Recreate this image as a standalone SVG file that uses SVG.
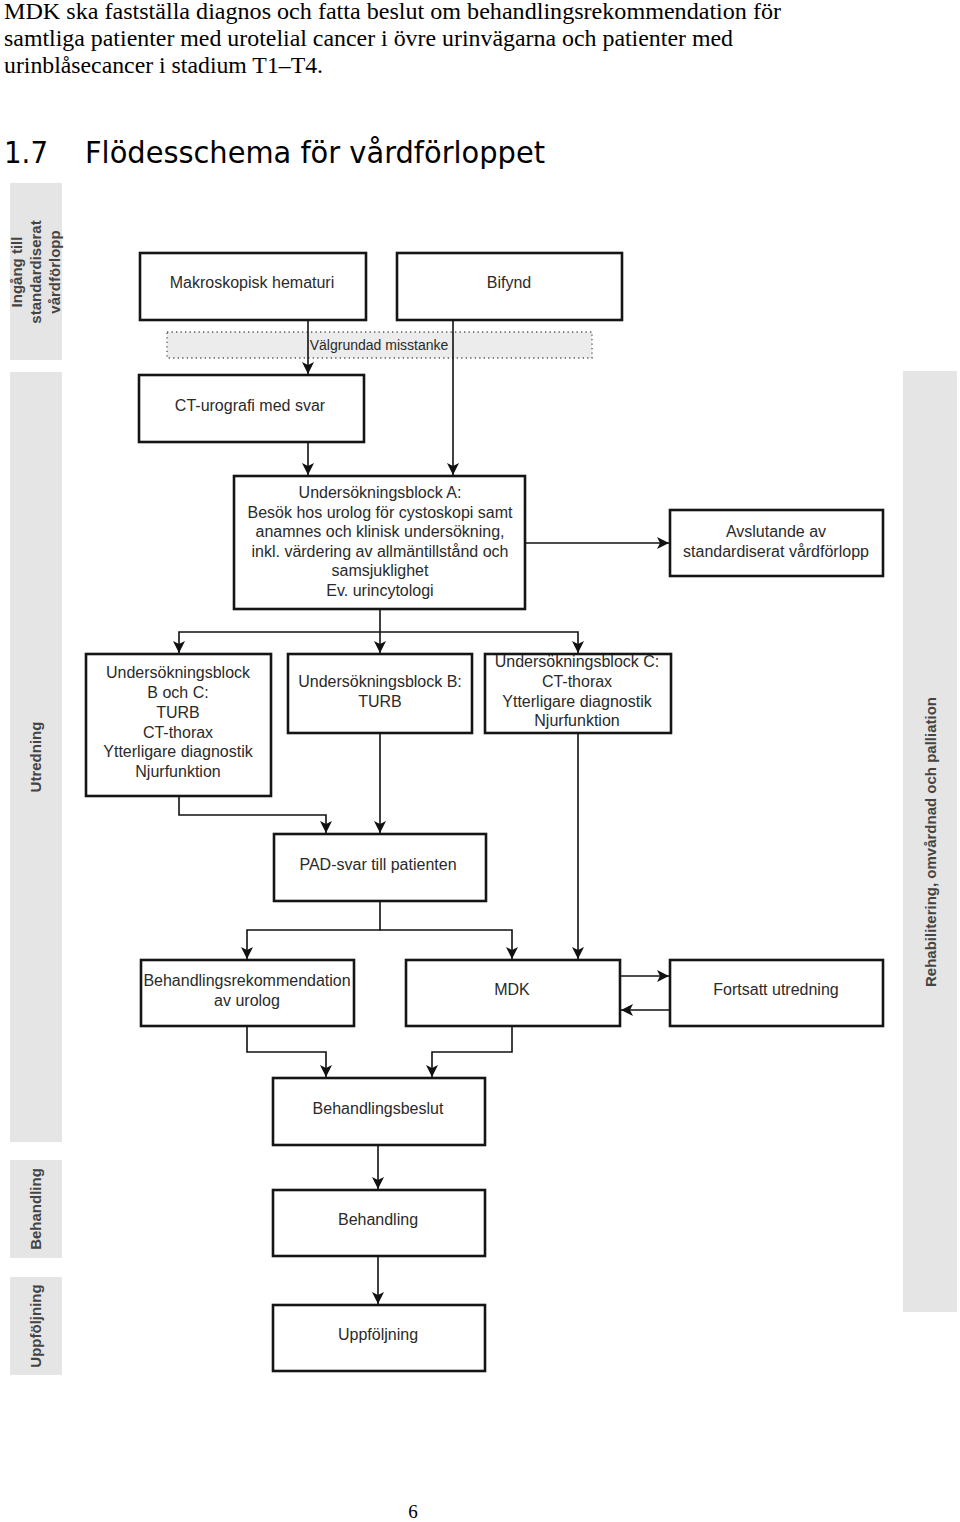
<svg xmlns="http://www.w3.org/2000/svg" width="960" height="1522" viewBox="0 0 960 1522">
<style>
.body{font-family:"Liberation Serif","Times New Roman",serif;font-size:23px;fill:#000}
.h{font-family:"DejaVu Sans",Verdana,sans-serif;font-size:30px;fill:#000}
.lane{fill:#e5e5e5}
.lt{font-family:"Liberation Sans",Arial,sans-serif;font-size:15px;font-weight:bold;fill:#444;text-anchor:middle;dominant-baseline:central}
.box{fill:#fff;stroke:#151515;stroke-width:2.6}
.t{font-family:"Liberation Sans",Arial,sans-serif;font-size:16px;fill:#2a2a2a;text-anchor:middle}
.c{fill:none;stroke:#111;stroke-width:1.6}
</style>
<defs>
<marker id="a" markerUnits="userSpaceOnUse" markerWidth="13" markerHeight="12" refX="12" refY="6" orient="auto">
<path d="M0,0 L12,6 L0,12 L3,6 z" fill="#111"/>
</marker>
</defs>
<rect width="960" height="1522" fill="#fff"/>
<g id="header">
<text class="body" x="4" y="19" textLength="777" lengthAdjust="spacingAndGlyphs">MDK ska fastställa diagnos och fatta beslut om behandlingsrekommendation för</text>
<text class="body" x="4" y="46" textLength="729" lengthAdjust="spacingAndGlyphs">samtliga patienter med urotelial cancer i övre urinvägarna och patienter med</text>
<text class="body" x="4" y="73" textLength="319" lengthAdjust="spacingAndGlyphs">urinblåsecancer i stadium T1–T4.</text>
<text class="h" x="4" y="163" textLength="44" lengthAdjust="spacingAndGlyphs">1.7</text>
<text class="h" x="85" y="163" textLength="460" lengthAdjust="spacingAndGlyphs">Flödesschema för vårdförloppet</text>
</g>
<g id="lanes">
<rect class="lane" x="10" y="183" width="52" height="177"/>
<text class="lt" transform="translate(35,272) rotate(-90)"><tspan x="0" y="-19">Ingång till</tspan><tspan x="0" y="0">standardiserat</tspan><tspan x="0" y="19">vårdförlopp</tspan></text>
<rect class="lane" x="10" y="372" width="52" height="770"/>
<text class="lt" transform="translate(35,757) rotate(-90)">Utredning</text>
<rect class="lane" x="10" y="1160" width="52" height="98"/>
<text class="lt" transform="translate(35,1209) rotate(-90)">Behandling</text>
<rect class="lane" x="10" y="1277" width="52" height="98"/>
<text class="lt" transform="translate(35,1326) rotate(-90)">Uppföljning</text>
<rect class="lane" x="903" y="371" width="54" height="941"/>
<text class="lt" transform="translate(930,842) rotate(-90)">Rehabilitering, omvårdnad och palliation</text>
</g>
<g id="misstanke">
<rect x="167" y="332" width="425" height="26" fill="#ececec" stroke="#555" stroke-width="1.3" stroke-dasharray="1.3 3.2"/>
<text class="t" x="379" y="350" style="font-size:14px">Välgrundad misstanke</text>
</g>
<g id="connectors">
<path class="c" d="M308,320 V374" marker-end="url(#a)"/>
<path class="c" d="M453,320 V475" marker-end="url(#a)"/>
<path class="c" d="M308,442 V475" marker-end="url(#a)"/>
<path class="c" d="M525,543 H669" marker-end="url(#a)"/>
<path class="c" d="M380,609 V653" marker-end="url(#a)"/>
<path class="c" d="M380,632 H179 V653" marker-end="url(#a)"/>
<path class="c" d="M380,632 H578 V653" marker-end="url(#a)"/>
<path class="c" d="M179,796 V815 H326 V833" marker-end="url(#a)"/>
<path class="c" d="M380,733 V833" marker-end="url(#a)"/>
<path class="c" d="M578,733 V959" marker-end="url(#a)"/>
<path class="c" d="M380,901 V930 H247 V959" marker-end="url(#a)"/>
<path class="c" d="M380,930 H512 V959" marker-end="url(#a)"/>
<path class="c" d="M619,976 H669" marker-end="url(#a)"/>
<path class="c" d="M670,1010 H621" marker-end="url(#a)"/>
<path class="c" d="M247,1026 V1052 H326 V1077" marker-end="url(#a)"/>
<path class="c" d="M512,1026 V1052 H432 V1077" marker-end="url(#a)"/>
<path class="c" d="M378,1145 V1189" marker-end="url(#a)"/>
<path class="c" d="M378,1256 V1304" marker-end="url(#a)"/>
</g>
<g id="n-makro"><rect class="box" x="140" y="253" width="226" height="67"/><text class="t" x="252" y="288">Makroskopisk hematuri</text></g>
<g id="n-bifynd"><rect class="box" x="397" y="253" width="225" height="67"/><text class="t" x="509" y="288">Bifynd</text></g>
<g id="n-ct"><rect class="box" x="139" y="375" width="225" height="67"/><text class="t" x="250" y="411">CT-urografi med svar</text></g>
<g id="n-blockA"><rect class="box" x="234" y="476" width="291" height="133"/>
<text class="t"><tspan x="380" y="498">Undersökningsblock A:</tspan><tspan x="380" y="517.6">Besök hos urolog för cystoskopi samt</tspan><tspan x="380" y="537.2">anamnes och klinisk undersökning,</tspan><tspan x="380" y="556.8">inkl. värdering av allmäntillstånd och</tspan><tspan x="380" y="576.4">samsjuklighet</tspan><tspan x="380" y="596">Ev. urincytologi</tspan></text></g>
<g id="n-avslut"><rect class="box" x="670" y="510" width="213" height="66"/>
<text class="t"><tspan x="776" y="537">Avslutande av</tspan><tspan x="776" y="557">standardiserat vårdförlopp</tspan></text></g>
<g id="n-blockBC"><rect class="box" x="86" y="654" width="185" height="142"/>
<text class="t"><tspan x="178" y="678">Undersökningsblock</tspan><tspan x="178" y="698">B och C:</tspan><tspan x="178" y="718">TURB</tspan><tspan x="178" y="738">CT-thorax</tspan><tspan x="178" y="757">Ytterligare diagnostik</tspan><tspan x="178" y="777">Njurfunktion</tspan></text></g>
<g id="n-blockB"><rect class="box" x="288" y="654" width="184" height="79"/>
<text class="t"><tspan x="380" y="687">Undersökningsblock B:</tspan><tspan x="380" y="707">TURB</tspan></text></g>
<g id="n-blockC"><rect class="box" x="485" y="654" width="186" height="79"/>
<text class="t"><tspan x="577" y="667">Undersökningsblock C:</tspan><tspan x="577" y="687">CT-thorax</tspan><tspan x="577" y="707">Ytterligare diagnostik</tspan><tspan x="577" y="726">Njurfunktion</tspan></text></g>
<g id="n-pad"><rect class="box" x="274" y="834" width="212" height="67"/><text class="t" x="378" y="870">PAD-svar till patienten</text></g>
<g id="n-behrek"><rect class="box" x="141" y="960" width="213" height="66"/>
<text class="t"><tspan x="247" y="986">Behandlingsrekommendation</tspan><tspan x="247" y="1006">av urolog</tspan></text></g>
<g id="n-mdk"><rect class="box" x="406" y="960" width="214" height="66"/><text class="t" x="512" y="995">MDK</text></g>
<g id="n-fortsatt"><rect class="box" x="670" y="960" width="213" height="66"/><text class="t" x="776" y="995">Fortsatt utredning</text></g>
<g id="n-beslut"><rect class="box" x="273" y="1078" width="212" height="67"/><text class="t" x="378" y="1114">Behandlingsbeslut</text></g>
<g id="n-behandling"><rect class="box" x="273" y="1190" width="212" height="66"/><text class="t" x="378" y="1225">Behandling</text></g>
<g id="n-uppfoljning"><rect class="box" x="273" y="1305" width="212" height="66"/><text class="t" x="378" y="1340">Uppföljning</text></g>
<text class="body" x="413" y="1518" text-anchor="middle" style="font-size:19px">6</text>
</svg>
